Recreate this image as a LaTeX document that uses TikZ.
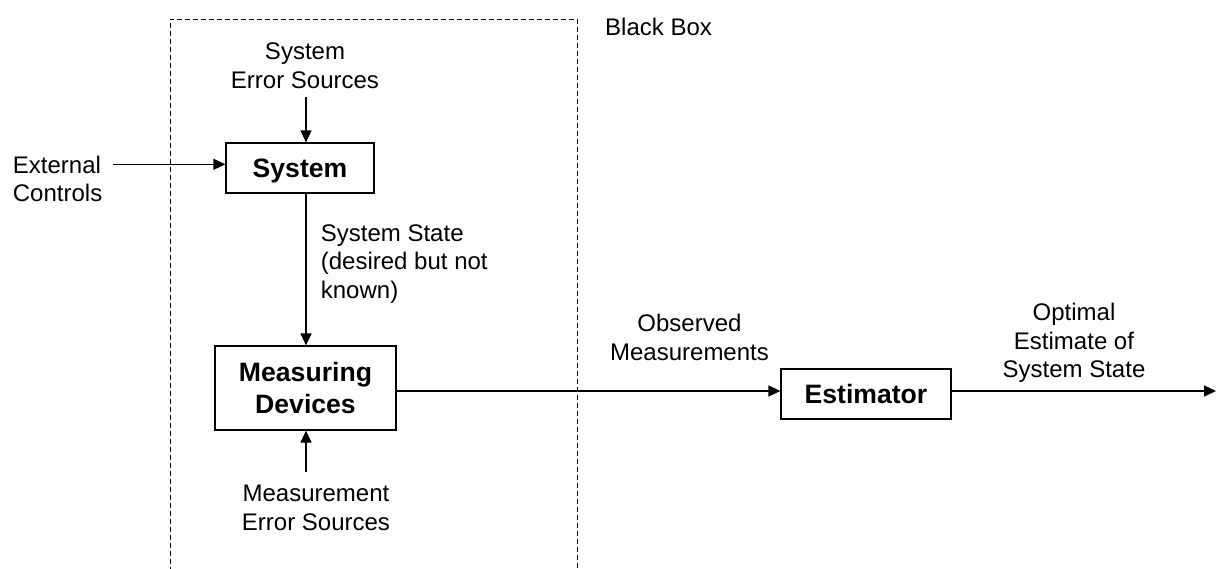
\documentclass[tikz,border=0pt]{standalone}
\usepackage{fontspec}
\setmainfont{Liberation Sans}
\usetikzlibrary{arrows.meta}
\begin{document}
\begin{tikzpicture}[x=1pt,y=-1pt,
  lbl/.style={font=\fontsize{24}{28.5}\selectfont, inner sep=0pt, anchor=base},
  blk/.style={draw, line width=1.2pt, font=\bfseries\fontsize{26.6}{31.6}\selectfont, inner sep=0pt, align=center},
  arr/.style={line width=1.2pt, -{Triangle[length=12pt,width=11pt]}},
  bbox/.style={line width=1pt, dash pattern=on 5pt off 3pt}]
\useasboundingbox (0,0) rectangle (1216,568);
\clip (0,0) rectangle (1216,568);

% black box boundary (open at the bottom)
\draw[bbox] (170,580) -- (170,19) -- (577,19) -- (577,580);

% labels (multi-line labels are placed by the baseline of their last line)
\node[lbl, anchor=base west] (bb) at (605,35.7) {Black Box};
\node[lbl, align=center] (ses) at (305,88.3) {System\\Error Sources};
\node[lbl, align=left, anchor=base west] (ext) at (12.7,201.7) {External\\Controls};
\node[lbl, align=left, anchor=base west] (sst) at (320.7,298) {System State\\(desired but not\\known)};
\node[lbl, align=center] (obs) at (689.5,360) {Observed\\Measurements};
\node[lbl, align=center] (opt) at (1074,377.7) {Optimal\\Estimate of\\System State};
\node[lbl, align=center] (mes) at (316,530) {Measurement\\Error Sources};

% blocks
\node[blk, minimum width=148pt, minimum height=50pt, text height=19.5pt, text depth=0pt] (sys) at (300,168) {System};
\node[blk, minimum width=181pt, minimum height=84pt] (meas) at (305.5,388) {Measuring\\Devices};
\node[blk, minimum width=170pt, minimum height=50pt, text height=19.5pt, text depth=0pt] (est) at (866,394) {Estimator};

% connector end points
\coordinate (extin) at (113,164.3);
\coordinate (sesout) at (306,97);
\coordinate (mesout) at (306,472);
\coordinate (sigline) at (600,391);
\coordinate (outend) at (1216,391);

% connectors
\draw[arr] (extin) -- (extin -| sys.west);
\draw[arr] (sesout) -- (sesout |- sys.north);
\draw[arr] (sesout |- sys.south) -- (sesout |- meas.north);
\draw[arr] (mesout) -- (mesout |- meas.south);
\draw[arr] (sigline -| meas.east) -- (sigline -| est.west);
\draw[arr] (sigline -| est.east) -- (outend);
\end{tikzpicture}
\end{document}
